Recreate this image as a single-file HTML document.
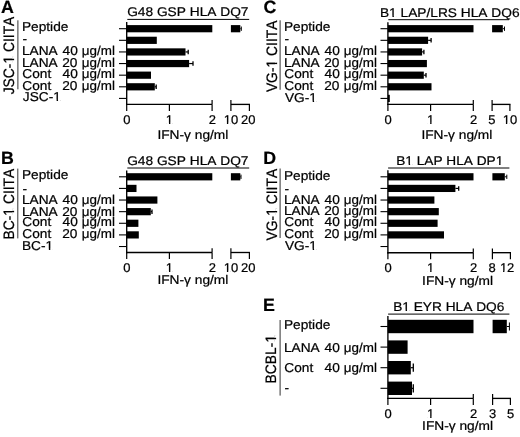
<!DOCTYPE html>
<html><head><meta charset="utf-8"><style>
html,body{margin:0;padding:0;background:#fff;}
svg{display:block;filter:grayscale(1);text-rendering:geometricPrecision;}
text{font-family:"Liberation Sans",sans-serif;fill:#000;stroke:#000;stroke-width:0.22px;font-kerning:none;}
</style></head><body>
<svg width="520" height="437" viewBox="0 0 520 437">
<rect width="520" height="437" fill="#fff"/>
<g>
<text transform="translate(0.91,13) scale(1.0,1)" font-size="17.8" font-weight="bold">A</text>
<text transform="translate(13.70,94.37) rotate(-90) scale(1,1.09)" font-size="13.85">JSC-1 CIITA</text>
<g transform="translate(13.70,94.37) rotate(-90) scale(1,1.09)" fill="#fff"><rect x="31.12" y="-1.31" width="3.04" height="2.51"/><rect x="35.59" y="-1.31" width="2.70" height="2.51"/></g>
<line x1="17.90" y1="20.30" x2="17.90" y2="89.30" stroke="#333" stroke-width="1.0"/>
<text transform="translate(21.93,31) scale(1.062,1)" font-size="12.9">Peptide</text>
<text transform="translate(22.44,43) scale(1.062,1)" font-size="12.9">-</text>
<text transform="translate(21.93,55) scale(1.062,1)" font-size="12.9">LANA</text>
<text transform="translate(62.54,55) scale(1.062,1)" font-size="12.9">40</text>
<text transform="translate(81.85,55) scale(1.0407600000000001,1)" font-size="12.9">μg/ml</text>
<text transform="translate(21.93,67) scale(1.062,1)" font-size="12.9">LANA</text>
<text transform="translate(62.16,67) scale(1.062,1)" font-size="12.9">20</text>
<text transform="translate(81.85,67) scale(1.0407600000000001,1)" font-size="12.9">μg/ml</text>
<text transform="translate(22.35,78) scale(1.062,1)" font-size="12.9">Cont</text>
<text transform="translate(62.54,78) scale(1.062,1)" font-size="12.9">40</text>
<text transform="translate(81.85,78) scale(1.0407600000000001,1)" font-size="12.9">μg/ml</text>
<text transform="translate(22.35,90) scale(1.062,1)" font-size="12.9">Cont</text>
<text transform="translate(62.16,90) scale(1.062,1)" font-size="12.9">20</text>
<text transform="translate(81.85,90) scale(1.0407600000000001,1)" font-size="12.9">μg/ml</text>
<text transform="translate(22.84,101) scale(1.062,1)" font-size="12.9">JSC-1</text>
<g transform="translate(22.84,101) scale(1.062,1)" fill="#fff"><rect x="28.98" y="-1.22" width="2.83" height="2.42"/><rect x="33.14" y="-1.22" width="2.51" height="2.42"/></g>
<line x1="126.70" y1="22.00" x2="126.70" y2="105.08" stroke="#000" stroke-width="1.35"/>
<line x1="119.00" y1="28.70" x2="126.70" y2="28.70" stroke="#000" stroke-width="1.1"/>
<line x1="119.00" y1="40.32" x2="126.70" y2="40.32" stroke="#000" stroke-width="1.1"/>
<line x1="119.00" y1="51.94" x2="126.70" y2="51.94" stroke="#000" stroke-width="1.1"/>
<line x1="119.00" y1="63.56" x2="126.70" y2="63.56" stroke="#000" stroke-width="1.1"/>
<line x1="119.00" y1="75.18" x2="126.70" y2="75.18" stroke="#000" stroke-width="1.1"/>
<line x1="119.00" y1="86.80" x2="126.70" y2="86.80" stroke="#000" stroke-width="1.1"/>
<line x1="119.00" y1="98.42" x2="126.70" y2="98.42" stroke="#000" stroke-width="1.1"/>
<rect x="126.70" y="25.10" width="85.60" height="7.20" fill="#000"/>
<rect x="126.70" y="36.72" width="30.10" height="7.20" fill="#000"/>
<rect x="126.70" y="48.34" width="58.80" height="7.20" fill="#000"/>
<line x1="185.50" y1="51.94" x2="188.20" y2="51.94" stroke="#000" stroke-width="1.2"/>
<line x1="188.20" y1="49.71" x2="188.20" y2="54.17" stroke="#000" stroke-width="1.3"/>
<rect x="126.70" y="59.96" width="62.40" height="7.20" fill="#000"/>
<line x1="189.10" y1="63.56" x2="193.00" y2="63.56" stroke="#000" stroke-width="1.2"/>
<line x1="193.00" y1="61.33" x2="193.00" y2="65.79" stroke="#000" stroke-width="1.3"/>
<rect x="126.70" y="71.58" width="24.30" height="7.20" fill="#000"/>
<rect x="126.70" y="83.20" width="28.10" height="7.20" fill="#000"/>
<line x1="154.80" y1="86.80" x2="156.20" y2="86.80" stroke="#000" stroke-width="1.2"/>
<line x1="156.20" y1="84.57" x2="156.20" y2="89.03" stroke="#000" stroke-width="1.3"/>
<line x1="126.03" y1="104.40" x2="212.10" y2="104.40" stroke="#000" stroke-width="1.35"/>
<line x1="126.70" y1="104.40" x2="126.70" y2="111.00" stroke="#000" stroke-width="1.2"/>
<line x1="169.40" y1="104.40" x2="169.40" y2="111.00" stroke="#000" stroke-width="1.2"/>
<line x1="212.10" y1="104.40" x2="212.10" y2="111.00" stroke="#000" stroke-width="1.2"/>
<line x1="212.10" y1="100.10" x2="212.10" y2="104.40" stroke="#000" stroke-width="1.2"/>
<line x1="230.90" y1="100.10" x2="230.90" y2="111.00" stroke="#000" stroke-width="1.2"/>
<line x1="230.90" y1="104.40" x2="250.00" y2="104.40" stroke="#000" stroke-width="1.35"/>
<line x1="249.40" y1="104.40" x2="249.40" y2="111.00" stroke="#000" stroke-width="1.2"/>
<rect x="230.90" y="25.10" width="9.40" height="7.20" fill="#000"/>
<line x1="240.30" y1="28.70" x2="241.30" y2="28.70" stroke="#000" stroke-width="1.0"/>
<line x1="241.30" y1="26.54" x2="241.30" y2="30.86" stroke="#000" stroke-width="1.0"/>
<text transform="translate(123.29,124) scale(1.03,1)" font-size="12.6">0</text>
<text transform="translate(165.81,124) scale(1.03,1)" font-size="12.6">1</text>
<g transform="translate(165.81,124) scale(1.03,1)" fill="#fff"><rect x="0.31" y="-1.19" width="2.77" height="2.39"/><rect x="4.37" y="-1.19" width="2.45" height="2.39"/></g>
<text transform="translate(208.69,124) scale(1.03,1)" font-size="12.6">2</text>
<text transform="translate(223.74,124) scale(1.03,1)" font-size="12.6">10</text>
<g transform="translate(223.74,124) scale(1.03,1)" fill="#fff"><rect x="0.31" y="-1.19" width="2.77" height="2.39"/><rect x="4.37" y="-1.19" width="2.45" height="2.39"/></g>
<text transform="translate(241.11,124) scale(1.03,1)" font-size="12.6">20</text>
<text transform="translate(157.38,139) scale(1.09,1)" font-size="12.6">IFN-γ ng/ml</text>
<text transform="translate(127.16,16) scale(1.09,1)" font-size="12.6">G48 GSP HLA DQ7</text>
<line x1="127.30" y1="19.40" x2="249.20" y2="19.40" stroke="#000" stroke-width="1.0"/>
<text transform="translate(1.06,164) scale(1.0,1)" font-size="17.8" font-weight="bold">B</text>
<text transform="translate(13.70,239.49) rotate(-90) scale(1,1.09)" font-size="13.85">BC-1 CIITA</text>
<g transform="translate(13.70,239.49) rotate(-90) scale(1,1.09)" fill="#fff"><rect x="24.19" y="-1.31" width="3.04" height="2.51"/><rect x="28.66" y="-1.31" width="2.70" height="2.51"/></g>
<line x1="17.80" y1="168.60" x2="17.80" y2="238.40" stroke="#333" stroke-width="1.0"/>
<text transform="translate(21.93,179) scale(1.062,1)" font-size="12.9">Peptide</text>
<text transform="translate(22.44,193) scale(1.062,1)" font-size="12.9">-</text>
<text transform="translate(21.93,204) scale(1.062,1)" font-size="12.9">LANA</text>
<text transform="translate(62.54,204) scale(1.062,1)" font-size="12.9">40</text>
<text transform="translate(81.85,204) scale(1.0407600000000001,1)" font-size="12.9">μg/ml</text>
<text transform="translate(21.93,216) scale(1.062,1)" font-size="12.9">LANA</text>
<text transform="translate(62.16,216) scale(1.062,1)" font-size="12.9">20</text>
<text transform="translate(81.85,216) scale(1.0407600000000001,1)" font-size="12.9">μg/ml</text>
<text transform="translate(22.35,226) scale(1.062,1)" font-size="12.9">Cont</text>
<text transform="translate(62.54,226) scale(1.062,1)" font-size="12.9">40</text>
<text transform="translate(81.85,226) scale(1.0407600000000001,1)" font-size="12.9">μg/ml</text>
<text transform="translate(22.35,238) scale(1.062,1)" font-size="12.9">Cont</text>
<text transform="translate(62.16,238) scale(1.062,1)" font-size="12.9">20</text>
<text transform="translate(81.85,238) scale(1.0407600000000001,1)" font-size="12.9">μg/ml</text>
<text transform="translate(21.93,250) scale(1.062,1)" font-size="12.9">BC-1</text>
<g transform="translate(21.93,250) scale(1.062,1)" fill="#fff"><rect x="22.53" y="-1.22" width="2.83" height="2.42"/><rect x="26.69" y="-1.22" width="2.51" height="2.42"/></g>
<line x1="126.70" y1="170.60" x2="126.70" y2="253.18" stroke="#000" stroke-width="1.35"/>
<line x1="119.00" y1="176.80" x2="126.70" y2="176.80" stroke="#000" stroke-width="1.1"/>
<line x1="119.00" y1="188.42" x2="126.70" y2="188.42" stroke="#000" stroke-width="1.1"/>
<line x1="119.00" y1="200.04" x2="126.70" y2="200.04" stroke="#000" stroke-width="1.1"/>
<line x1="119.00" y1="211.66" x2="126.70" y2="211.66" stroke="#000" stroke-width="1.1"/>
<line x1="119.00" y1="223.28" x2="126.70" y2="223.28" stroke="#000" stroke-width="1.1"/>
<line x1="119.00" y1="234.90" x2="126.70" y2="234.90" stroke="#000" stroke-width="1.1"/>
<line x1="119.00" y1="246.52" x2="126.70" y2="246.52" stroke="#000" stroke-width="1.1"/>
<rect x="126.70" y="173.20" width="85.60" height="7.20" fill="#000"/>
<rect x="126.70" y="184.82" width="9.80" height="7.20" fill="#000"/>
<rect x="126.70" y="196.44" width="30.70" height="7.20" fill="#000"/>
<rect x="126.70" y="208.06" width="24.10" height="7.20" fill="#000"/>
<line x1="150.80" y1="211.66" x2="152.00" y2="211.66" stroke="#000" stroke-width="1.2"/>
<line x1="152.00" y1="209.43" x2="152.00" y2="213.89" stroke="#000" stroke-width="1.3"/>
<rect x="126.70" y="219.68" width="11.70" height="7.20" fill="#000"/>
<rect x="126.70" y="231.30" width="12.10" height="7.20" fill="#000"/>
<line x1="126.03" y1="252.50" x2="212.10" y2="252.50" stroke="#000" stroke-width="1.35"/>
<line x1="126.70" y1="252.50" x2="126.70" y2="259.10" stroke="#000" stroke-width="1.2"/>
<line x1="169.40" y1="252.50" x2="169.40" y2="259.10" stroke="#000" stroke-width="1.2"/>
<line x1="212.10" y1="252.50" x2="212.10" y2="259.10" stroke="#000" stroke-width="1.2"/>
<line x1="212.10" y1="248.20" x2="212.10" y2="252.50" stroke="#000" stroke-width="1.2"/>
<line x1="230.90" y1="248.20" x2="230.90" y2="259.10" stroke="#000" stroke-width="1.2"/>
<line x1="230.90" y1="252.50" x2="250.00" y2="252.50" stroke="#000" stroke-width="1.35"/>
<line x1="249.40" y1="252.50" x2="249.40" y2="259.10" stroke="#000" stroke-width="1.2"/>
<rect x="230.90" y="173.20" width="9.40" height="7.20" fill="#000"/>
<line x1="240.30" y1="176.80" x2="241.00" y2="176.80" stroke="#000" stroke-width="1.0"/>
<line x1="241.00" y1="174.64" x2="241.00" y2="178.96" stroke="#000" stroke-width="1.0"/>
<text transform="translate(123.29,272) scale(1.03,1)" font-size="12.6">0</text>
<text transform="translate(165.81,272) scale(1.03,1)" font-size="12.6">1</text>
<g transform="translate(165.81,272) scale(1.03,1)" fill="#fff"><rect x="0.31" y="-1.19" width="2.77" height="2.39"/><rect x="4.37" y="-1.19" width="2.45" height="2.39"/></g>
<text transform="translate(208.69,272) scale(1.03,1)" font-size="12.6">2</text>
<text transform="translate(223.74,272) scale(1.03,1)" font-size="12.6">10</text>
<g transform="translate(223.74,272) scale(1.03,1)" fill="#fff"><rect x="0.31" y="-1.19" width="2.77" height="2.39"/><rect x="4.37" y="-1.19" width="2.45" height="2.39"/></g>
<text transform="translate(241.11,272) scale(1.03,1)" font-size="12.6">20</text>
<text transform="translate(157.38,284) scale(1.09,1)" font-size="12.6">IFN-γ ng/ml</text>
<text transform="translate(127.16,165) scale(1.09,1)" font-size="12.6">G48 GSP HLA DQ7</text>
<line x1="127.30" y1="168.00" x2="249.20" y2="168.00" stroke="#000" stroke-width="1.0"/>
<text transform="translate(263.42,13) scale(1.0,1)" font-size="17.8" font-weight="bold">C</text>
<text transform="translate(276.50,92.11) rotate(-90) scale(1,1.09)" font-size="13.85">VG-1 CIITA</text>
<g transform="translate(276.50,92.11) rotate(-90) scale(1,1.09)" fill="#fff"><rect x="24.96" y="-1.31" width="3.04" height="2.51"/><rect x="29.43" y="-1.31" width="2.70" height="2.51"/></g>
<line x1="280.10" y1="20.30" x2="280.10" y2="89.80" stroke="#333" stroke-width="1.0"/>
<text transform="translate(283.93,31) scale(1.062,1)" font-size="12.9">Peptide</text>
<text transform="translate(284.44,43) scale(1.062,1)" font-size="12.9">-</text>
<text transform="translate(283.93,55) scale(1.062,1)" font-size="12.9">LANA</text>
<text transform="translate(324.54,55) scale(1.062,1)" font-size="12.9">40</text>
<text transform="translate(343.85,55) scale(1.0407600000000001,1)" font-size="12.9">μg/ml</text>
<text transform="translate(283.93,67) scale(1.062,1)" font-size="12.9">LANA</text>
<text transform="translate(324.16,67) scale(1.062,1)" font-size="12.9">20</text>
<text transform="translate(343.85,67) scale(1.0407600000000001,1)" font-size="12.9">μg/ml</text>
<text transform="translate(284.35,78) scale(1.062,1)" font-size="12.9">Cont</text>
<text transform="translate(324.54,78) scale(1.062,1)" font-size="12.9">40</text>
<text transform="translate(343.85,78) scale(1.0407600000000001,1)" font-size="12.9">μg/ml</text>
<text transform="translate(284.35,90) scale(1.062,1)" font-size="12.9">Cont</text>
<text transform="translate(324.16,90) scale(1.062,1)" font-size="12.9">20</text>
<text transform="translate(343.85,90) scale(1.0407600000000001,1)" font-size="12.9">μg/ml</text>
<text transform="translate(284.99,102) scale(1.062,1)" font-size="12.9">VG-1</text>
<g transform="translate(284.99,102) scale(1.062,1)" fill="#fff"><rect x="23.25" y="-1.22" width="2.83" height="2.42"/><rect x="27.41" y="-1.22" width="2.51" height="2.42"/></g>
<line x1="387.90" y1="22.30" x2="387.90" y2="105.08" stroke="#000" stroke-width="1.35"/>
<line x1="380.50" y1="28.70" x2="387.90" y2="28.70" stroke="#000" stroke-width="1.1"/>
<line x1="380.50" y1="40.32" x2="387.90" y2="40.32" stroke="#000" stroke-width="1.1"/>
<line x1="380.50" y1="51.94" x2="387.90" y2="51.94" stroke="#000" stroke-width="1.1"/>
<line x1="380.50" y1="63.56" x2="387.90" y2="63.56" stroke="#000" stroke-width="1.1"/>
<line x1="380.50" y1="75.18" x2="387.90" y2="75.18" stroke="#000" stroke-width="1.1"/>
<line x1="380.50" y1="86.80" x2="387.90" y2="86.80" stroke="#000" stroke-width="1.1"/>
<line x1="380.50" y1="98.42" x2="387.90" y2="98.42" stroke="#000" stroke-width="1.1"/>
<rect x="387.90" y="25.10" width="85.60" height="7.20" fill="#000"/>
<rect x="387.90" y="36.72" width="40.20" height="7.20" fill="#000"/>
<line x1="428.10" y1="40.32" x2="431.10" y2="40.32" stroke="#000" stroke-width="1.2"/>
<line x1="431.10" y1="38.09" x2="431.10" y2="42.55" stroke="#000" stroke-width="1.3"/>
<rect x="387.90" y="48.34" width="34.20" height="7.20" fill="#000"/>
<line x1="422.10" y1="51.94" x2="423.90" y2="51.94" stroke="#000" stroke-width="1.2"/>
<line x1="423.90" y1="49.71" x2="423.90" y2="54.17" stroke="#000" stroke-width="1.3"/>
<rect x="387.90" y="59.96" width="39.00" height="7.20" fill="#000"/>
<rect x="387.90" y="71.58" width="35.90" height="7.20" fill="#000"/>
<line x1="423.80" y1="75.18" x2="426.00" y2="75.18" stroke="#000" stroke-width="1.2"/>
<line x1="426.00" y1="72.95" x2="426.00" y2="77.41" stroke="#000" stroke-width="1.3"/>
<rect x="387.90" y="83.20" width="43.60" height="7.20" fill="#000"/>
<rect x="387.90" y="94.82" width="1.90" height="7.20" fill="#000"/>
<line x1="387.22" y1="104.40" x2="473.30" y2="104.40" stroke="#000" stroke-width="1.35"/>
<line x1="387.90" y1="104.40" x2="387.90" y2="111.00" stroke="#000" stroke-width="1.2"/>
<line x1="430.60" y1="104.40" x2="430.60" y2="111.00" stroke="#000" stroke-width="1.2"/>
<line x1="473.30" y1="104.40" x2="473.30" y2="111.00" stroke="#000" stroke-width="1.2"/>
<line x1="473.30" y1="100.10" x2="473.30" y2="104.40" stroke="#000" stroke-width="1.2"/>
<line x1="492.10" y1="100.10" x2="492.10" y2="111.00" stroke="#000" stroke-width="1.2"/>
<line x1="492.10" y1="104.40" x2="510.50" y2="104.40" stroke="#000" stroke-width="1.35"/>
<line x1="509.90" y1="104.40" x2="509.90" y2="111.00" stroke="#000" stroke-width="1.2"/>
<rect x="492.10" y="25.10" width="10.70" height="7.20" fill="#000"/>
<line x1="502.80" y1="28.70" x2="504.50" y2="28.70" stroke="#000" stroke-width="1.0"/>
<line x1="504.50" y1="26.54" x2="504.50" y2="30.86" stroke="#000" stroke-width="1.0"/>
<text transform="translate(384.49,124) scale(1.03,1)" font-size="12.6">0</text>
<text transform="translate(427.01,124) scale(1.03,1)" font-size="12.6">1</text>
<g transform="translate(427.01,124) scale(1.03,1)" fill="#fff"><rect x="0.31" y="-1.19" width="2.77" height="2.39"/><rect x="4.37" y="-1.19" width="2.45" height="2.39"/></g>
<text transform="translate(469.89,124) scale(1.03,1)" font-size="12.6">2</text>
<text transform="translate(488.20,124) scale(1.03,1)" font-size="12.6">5</text>
<text transform="translate(502.74,124) scale(1.03,1)" font-size="12.6">10</text>
<g transform="translate(502.74,124) scale(1.03,1)" fill="#fff"><rect x="0.31" y="-1.19" width="2.77" height="2.39"/><rect x="4.37" y="-1.19" width="2.45" height="2.39"/></g>
<text transform="translate(421.38,139) scale(1.09,1)" font-size="12.6">IFN-γ ng/ml</text>
<text transform="translate(379.92,17) scale(1.09,1)" font-size="12.6">B1 LAP/LRS HLA DQ6</text>
<g transform="translate(379.92,17) scale(1.09,1)" fill="#fff"><rect x="8.71" y="-1.19" width="2.77" height="2.39"/><rect x="12.78" y="-1.19" width="2.45" height="2.39"/></g>
<line x1="388.30" y1="19.70" x2="509.00" y2="19.70" stroke="#000" stroke-width="1.0"/>
<text transform="translate(263.16,164) scale(1.0,1)" font-size="17.8" font-weight="bold">D</text>
<text transform="translate(276.70,240.41) rotate(-90) scale(1,1.09)" font-size="13.85">VG-1 CIITA</text>
<g transform="translate(276.70,240.41) rotate(-90) scale(1,1.09)" fill="#fff"><rect x="24.96" y="-1.31" width="3.04" height="2.51"/><rect x="29.43" y="-1.31" width="2.70" height="2.51"/></g>
<line x1="280.10" y1="168.50" x2="280.10" y2="238.00" stroke="#333" stroke-width="1.0"/>
<text transform="translate(283.93,180) scale(1.062,1)" font-size="12.9">Peptide</text>
<text transform="translate(284.44,193) scale(1.062,1)" font-size="12.9">-</text>
<text transform="translate(283.93,204) scale(1.062,1)" font-size="12.9">LANA</text>
<text transform="translate(324.54,204) scale(1.062,1)" font-size="12.9">40</text>
<text transform="translate(343.85,204) scale(1.0407600000000001,1)" font-size="12.9">μg/ml</text>
<text transform="translate(283.93,215) scale(1.062,1)" font-size="12.9">LANA</text>
<text transform="translate(324.16,215) scale(1.062,1)" font-size="12.9">20</text>
<text transform="translate(343.85,215) scale(1.0407600000000001,1)" font-size="12.9">μg/ml</text>
<text transform="translate(284.35,226) scale(1.062,1)" font-size="12.9">Cont</text>
<text transform="translate(324.54,226) scale(1.062,1)" font-size="12.9">40</text>
<text transform="translate(343.85,226) scale(1.0407600000000001,1)" font-size="12.9">μg/ml</text>
<text transform="translate(284.35,238) scale(1.062,1)" font-size="12.9">Cont</text>
<text transform="translate(324.16,238) scale(1.062,1)" font-size="12.9">20</text>
<text transform="translate(343.85,238) scale(1.0407600000000001,1)" font-size="12.9">μg/ml</text>
<text transform="translate(284.99,250) scale(1.062,1)" font-size="12.9">VG-1</text>
<g transform="translate(284.99,250) scale(1.062,1)" fill="#fff"><rect x="23.25" y="-1.22" width="2.83" height="2.42"/><rect x="27.41" y="-1.22" width="2.51" height="2.42"/></g>
<line x1="387.90" y1="170.20" x2="387.90" y2="253.38" stroke="#000" stroke-width="1.35"/>
<line x1="380.50" y1="176.80" x2="387.90" y2="176.80" stroke="#000" stroke-width="1.1"/>
<line x1="380.50" y1="188.42" x2="387.90" y2="188.42" stroke="#000" stroke-width="1.1"/>
<line x1="380.50" y1="200.04" x2="387.90" y2="200.04" stroke="#000" stroke-width="1.1"/>
<line x1="380.50" y1="211.66" x2="387.90" y2="211.66" stroke="#000" stroke-width="1.1"/>
<line x1="380.50" y1="223.28" x2="387.90" y2="223.28" stroke="#000" stroke-width="1.1"/>
<line x1="380.50" y1="234.90" x2="387.90" y2="234.90" stroke="#000" stroke-width="1.1"/>
<line x1="380.50" y1="246.52" x2="387.90" y2="246.52" stroke="#000" stroke-width="1.1"/>
<rect x="387.90" y="173.20" width="85.60" height="7.20" fill="#000"/>
<rect x="387.90" y="184.82" width="67.50" height="7.20" fill="#000"/>
<line x1="455.40" y1="188.42" x2="458.70" y2="188.42" stroke="#000" stroke-width="1.2"/>
<line x1="458.70" y1="186.19" x2="458.70" y2="190.65" stroke="#000" stroke-width="1.3"/>
<rect x="387.90" y="196.44" width="46.50" height="7.20" fill="#000"/>
<rect x="387.90" y="208.06" width="50.90" height="7.20" fill="#000"/>
<rect x="387.90" y="219.68" width="49.70" height="7.20" fill="#000"/>
<rect x="387.90" y="231.30" width="56.10" height="7.20" fill="#000"/>
<line x1="387.22" y1="252.70" x2="473.30" y2="252.70" stroke="#000" stroke-width="1.35"/>
<line x1="387.90" y1="252.70" x2="387.90" y2="259.30" stroke="#000" stroke-width="1.2"/>
<line x1="430.60" y1="252.70" x2="430.60" y2="259.30" stroke="#000" stroke-width="1.2"/>
<line x1="473.30" y1="252.70" x2="473.30" y2="259.30" stroke="#000" stroke-width="1.2"/>
<line x1="473.30" y1="248.40" x2="473.30" y2="252.70" stroke="#000" stroke-width="1.2"/>
<line x1="492.40" y1="248.40" x2="492.40" y2="259.30" stroke="#000" stroke-width="1.2"/>
<line x1="492.40" y1="252.70" x2="511.00" y2="252.70" stroke="#000" stroke-width="1.35"/>
<line x1="510.40" y1="252.70" x2="510.40" y2="259.30" stroke="#000" stroke-width="1.2"/>
<rect x="492.40" y="173.20" width="12.40" height="7.20" fill="#000"/>
<line x1="504.80" y1="176.80" x2="506.80" y2="176.80" stroke="#000" stroke-width="1.0"/>
<line x1="506.80" y1="174.64" x2="506.80" y2="178.96" stroke="#000" stroke-width="1.0"/>
<text transform="translate(384.49,272) scale(1.03,1)" font-size="12.6">0</text>
<text transform="translate(427.01,272) scale(1.03,1)" font-size="12.6">1</text>
<g transform="translate(427.01,272) scale(1.03,1)" fill="#fff"><rect x="0.31" y="-1.19" width="2.77" height="2.39"/><rect x="4.37" y="-1.19" width="2.45" height="2.39"/></g>
<text transform="translate(469.89,272) scale(1.03,1)" font-size="12.6">2</text>
<text transform="translate(488.49,272) scale(1.03,1)" font-size="12.6">8</text>
<text transform="translate(499.91,272) scale(1.03,1)" font-size="12.6">12</text>
<g transform="translate(499.91,272) scale(1.03,1)" fill="#fff"><rect x="0.31" y="-1.19" width="2.77" height="2.39"/><rect x="4.37" y="-1.19" width="2.45" height="2.39"/></g>
<text transform="translate(422.08,285) scale(1.09,1)" font-size="12.6">IFN-γ ng/ml</text>
<text transform="translate(396.23,165) scale(1.085,1)" font-size="12.6">B1 LAP HLA DP1</text>
<g transform="translate(396.23,165) scale(1.085,1)" fill="#fff"><rect x="8.71" y="-1.19" width="2.77" height="2.39"/><rect x="12.78" y="-1.19" width="2.45" height="2.39"/><rect x="92.05" y="-1.19" width="2.77" height="2.39"/><rect x="96.12" y="-1.19" width="2.45" height="2.39"/></g>
<line x1="388.10" y1="168.00" x2="509.40" y2="168.00" stroke="#000" stroke-width="1.0"/>
<text transform="translate(263.06,311) scale(1.0,1)" font-size="17.8" font-weight="bold">E</text>
<text transform="translate(275.80,383.39) rotate(-90) scale(1,1.09)" font-size="13.85">BCBL-1</text>
<g transform="translate(275.80,383.39) rotate(-90) scale(1,1.09)" fill="#fff"><rect x="41.13" y="-1.31" width="3.04" height="2.51"/><rect x="45.60" y="-1.31" width="2.70" height="2.51"/></g>
<line x1="280.10" y1="320.00" x2="280.10" y2="395.60" stroke="#333" stroke-width="1.0"/>
<text transform="translate(283.93,329) scale(1.062,1)" font-size="12.9">Peptide</text>
<text transform="translate(283.93,352) scale(1.062,1)" font-size="12.9">LANA</text>
<text transform="translate(324.54,352) scale(1.062,1)" font-size="12.9">40</text>
<text transform="translate(343.85,352) scale(1.0407600000000001,1)" font-size="12.9">μg/ml</text>
<text transform="translate(284.35,372) scale(1.062,1)" font-size="12.9">Cont</text>
<text transform="translate(324.54,372) scale(1.062,1)" font-size="12.9">40</text>
<text transform="translate(343.85,372) scale(1.0407600000000001,1)" font-size="12.9">μg/ml</text>
<text transform="translate(284.44,392) scale(1.062,1)" font-size="12.9">-</text>
<line x1="387.90" y1="316.00" x2="387.90" y2="399.07" stroke="#000" stroke-width="1.35"/>
<line x1="380.50" y1="326.50" x2="387.90" y2="326.50" stroke="#000" stroke-width="1.1"/>
<line x1="380.50" y1="347.10" x2="387.90" y2="347.10" stroke="#000" stroke-width="1.1"/>
<line x1="380.50" y1="367.70" x2="387.90" y2="367.70" stroke="#000" stroke-width="1.1"/>
<line x1="380.50" y1="388.30" x2="387.90" y2="388.30" stroke="#000" stroke-width="1.1"/>
<rect x="387.90" y="319.80" width="85.60" height="13.40" fill="#000"/>
<rect x="387.90" y="340.40" width="19.70" height="13.40" fill="#000"/>
<rect x="387.90" y="361.00" width="22.90" height="13.40" fill="#000"/>
<line x1="410.80" y1="367.70" x2="413.30" y2="367.70" stroke="#000" stroke-width="1.2"/>
<line x1="413.30" y1="363.55" x2="413.30" y2="371.85" stroke="#000" stroke-width="1.3"/>
<rect x="387.90" y="381.60" width="24.10" height="13.40" fill="#000"/>
<line x1="412.00" y1="388.30" x2="413.30" y2="388.30" stroke="#000" stroke-width="1.2"/>
<line x1="413.30" y1="384.15" x2="413.30" y2="392.45" stroke="#000" stroke-width="1.3"/>
<line x1="387.22" y1="398.40" x2="473.30" y2="398.40" stroke="#000" stroke-width="1.35"/>
<line x1="387.90" y1="398.40" x2="387.90" y2="405.00" stroke="#000" stroke-width="1.2"/>
<line x1="430.60" y1="398.40" x2="430.60" y2="405.00" stroke="#000" stroke-width="1.2"/>
<line x1="473.30" y1="398.40" x2="473.30" y2="405.00" stroke="#000" stroke-width="1.2"/>
<line x1="473.30" y1="394.10" x2="473.30" y2="398.40" stroke="#000" stroke-width="1.2"/>
<line x1="492.60" y1="394.10" x2="492.60" y2="405.00" stroke="#000" stroke-width="1.2"/>
<line x1="492.60" y1="398.40" x2="511.00" y2="398.40" stroke="#000" stroke-width="1.35"/>
<line x1="510.40" y1="398.40" x2="510.40" y2="405.00" stroke="#000" stroke-width="1.2"/>
<rect x="492.60" y="319.80" width="14.20" height="13.40" fill="#000"/>
<line x1="506.80" y1="326.50" x2="509.40" y2="326.50" stroke="#000" stroke-width="1.0"/>
<line x1="509.40" y1="322.48" x2="509.40" y2="330.52" stroke="#000" stroke-width="1.0"/>
<text transform="translate(384.49,418) scale(1.03,1)" font-size="12.6">0</text>
<text transform="translate(427.01,418) scale(1.03,1)" font-size="12.6">1</text>
<g transform="translate(427.01,418) scale(1.03,1)" fill="#fff"><rect x="0.31" y="-1.19" width="2.77" height="2.39"/><rect x="4.37" y="-1.19" width="2.45" height="2.39"/></g>
<text transform="translate(469.89,418) scale(1.03,1)" font-size="12.6">2</text>
<text transform="translate(488.93,418) scale(1.03,1)" font-size="12.6">3</text>
<text transform="translate(507.00,418) scale(1.03,1)" font-size="12.6">5</text>
<text transform="translate(422.08,430) scale(1.09,1)" font-size="12.6">IFN-γ ng/ml</text>
<text transform="translate(393.13,311) scale(1.088,1)" font-size="12.6">B1 EYR HLA DQ6</text>
<g transform="translate(393.13,311) scale(1.088,1)" fill="#fff"><rect x="8.71" y="-1.19" width="2.77" height="2.39"/><rect x="12.78" y="-1.19" width="2.45" height="2.39"/></g>
<line x1="388.10" y1="314.10" x2="509.40" y2="314.10" stroke="#000" stroke-width="1.0"/>
</g>
</svg>
</body></html>
